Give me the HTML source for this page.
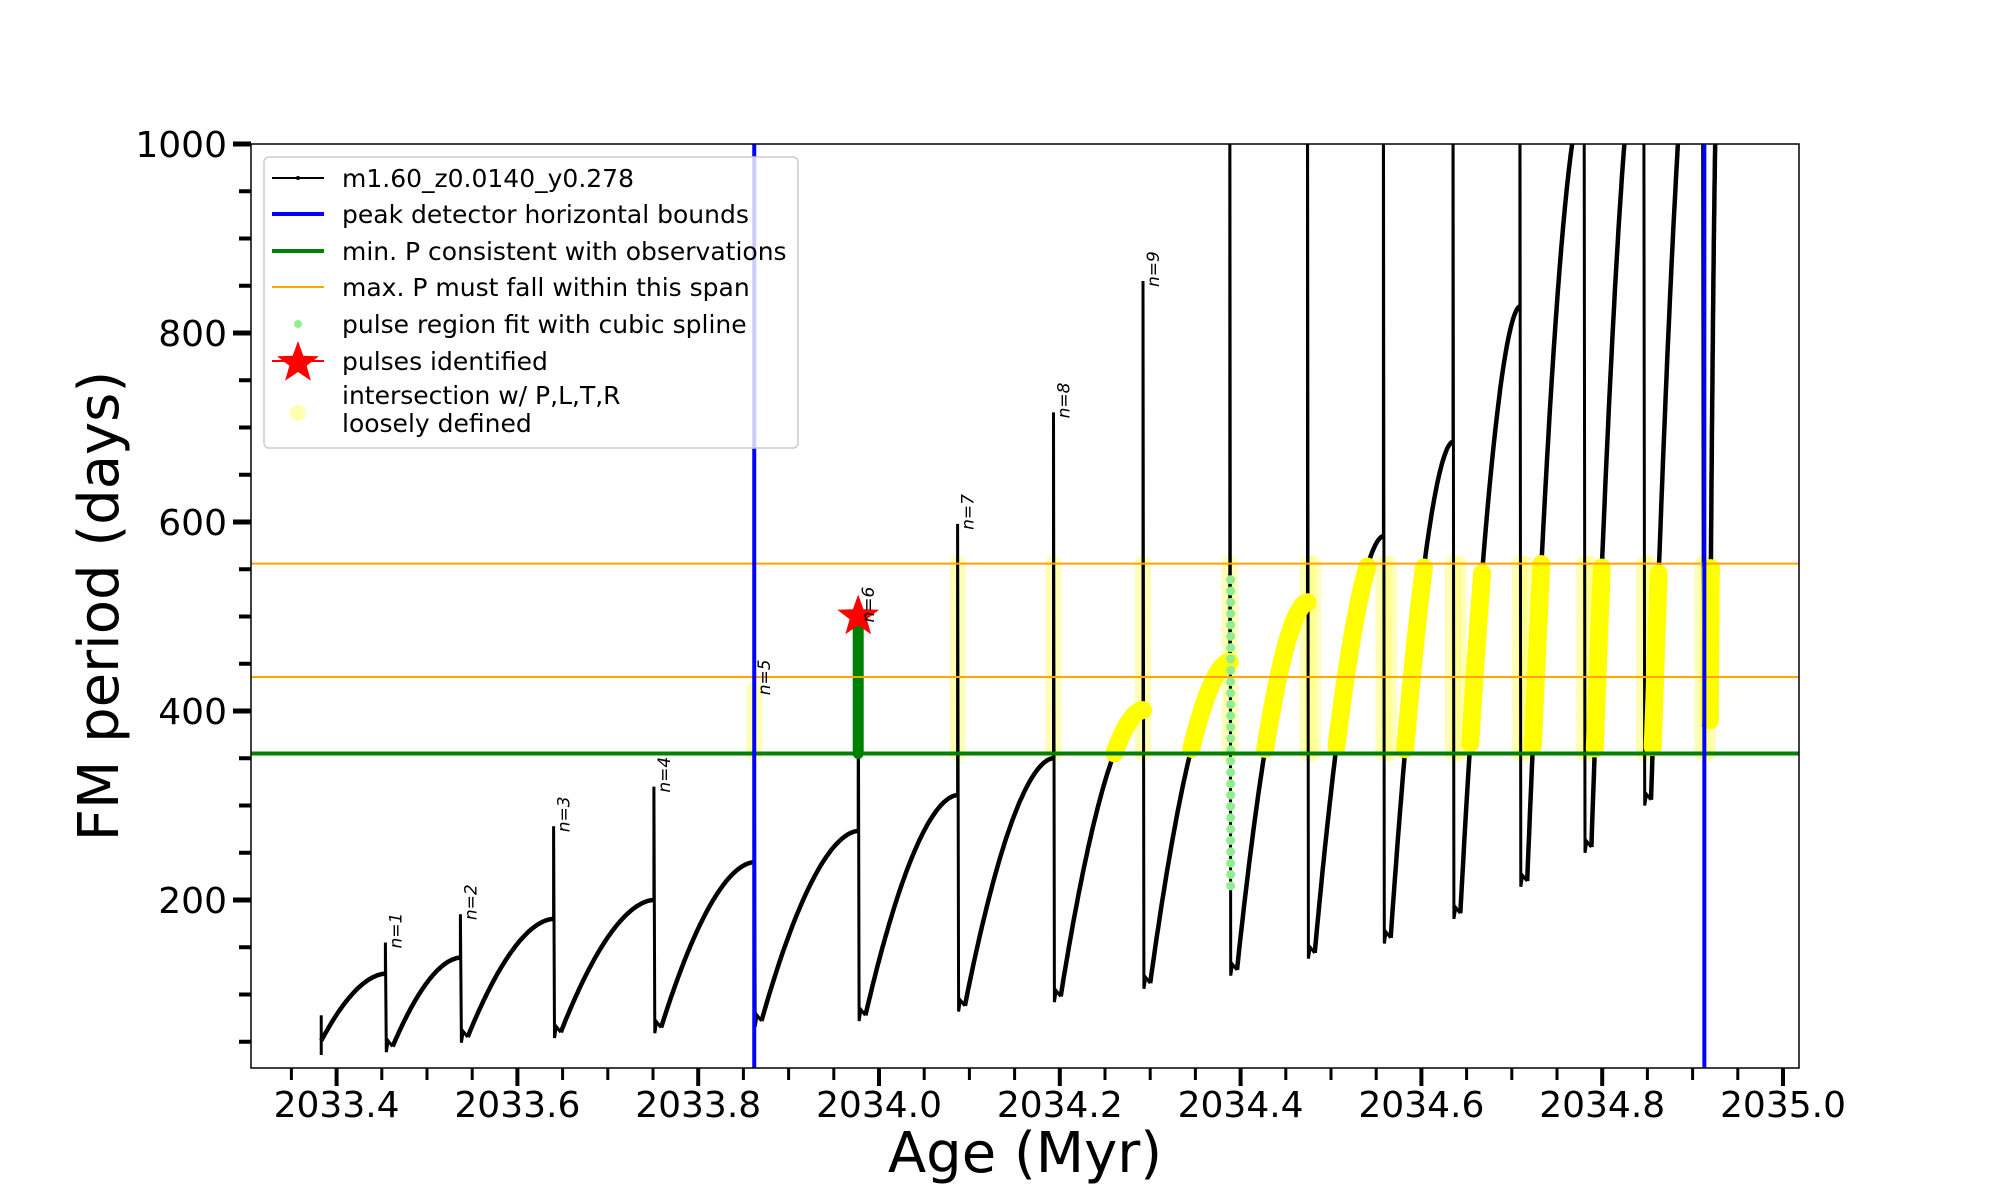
<!DOCTYPE html>
<html><head><meta charset="utf-8"><style>
html,body{margin:0;padding:0;background:#fff;}
svg{display:block;font-family:"DejaVu Sans","Liberation Sans",sans-serif;}
</style></head><body>
<svg id="chart" width="2000" height="1200" viewBox="0 0 2000 1200" xmlns="http://www.w3.org/2000/svg">
<defs><clipPath id="plotclip"><rect x="251" y="144" width="1548" height="924"/></clipPath></defs>
<rect x="0" y="0" width="2000" height="1200" fill="#fff"/>
<g id="marks" clip-path="url(#plotclip)"></g>
<rect x="251" y="144" width="1548" height="924" fill="none" stroke="#000" stroke-width="1.5"/>
<g id="axes"></g>
<text x="1025" y="1172" font-size="56" text-anchor="middle">Age (Myr)</text>
<text transform="translate(118,606) rotate(-90)" font-size="56" text-anchor="middle">FM period (days)</text>
<g>
<rect x="264" y="157" width="534" height="291" rx="5" fill="#fff" fill-opacity="0.8" stroke="#ccc" stroke-width="1.5"/>
<g><line x1="272" y1="178" x2="324" y2="178" stroke="#000" stroke-width="2"/><circle cx="298" cy="178" r="2" fill="#000"/><text x="342" y="187" font-size="25">m1.60_z0.0140_y0.278</text></g>
<g><line x1="272" y1="214" x2="324" y2="214" stroke="#00f" stroke-width="4"/><text x="342" y="223" font-size="25">peak detector horizontal bounds</text></g>
<g><line x1="272" y1="251" x2="324" y2="251" stroke="#008000" stroke-width="4"/><text x="342" y="260" font-size="25">min. P consistent with observations</text></g>
<g><line x1="272" y1="287" x2="324" y2="287" stroke="#ffa500" stroke-width="2"/><text x="342" y="296" font-size="25">max. P must fall within this span</text></g>
<g><circle cx="298" cy="324" r="4" fill="#90ee90"/><text x="342" y="333" font-size="25">pulse region fit with cubic spline</text></g>
<g><polygon id="legstar" fill="#f00"/><line x1="272" y1="361" x2="324" y2="361" stroke="#f00" stroke-width="2"/><text x="342" y="370" font-size="25">pulses identified</text></g>
<g><ellipse cx="298" cy="413" rx="8" ry="8" fill="#ffffb0"/><text x="342" y="404" font-size="25">intersection w/ P,L,T,R</text><text x="342" y="432" font-size="25">loosely defined</text></g>
</g>
<script>
// ---- data ----
const pulseAges = [2033.454, 2033.537, 2033.640, 2033.751, 2033.862, 2033.977, 2034.087, 2034.193, 2034.292, 2034.388, 2034.474, 2034.558, 2034.635, 2034.709, 2034.780, 2034.846, 2034.911];
const prePeaks  = [122, 139, 180, 200, 240, 273, 311, 350, 401, 452, 515, 585, 685, 828, 1050, 1150, 1250];
const spikeTops = [155, 185, 278, 320, 423, 500, 598, 716, 855, 1100, 1100, 1100, 1100, 1100, 1100, 1100, 1100];
const postMins  = [45, 55, 60, 65, 72, 78, 88, 98, 112, 126, 144, 160, 186, 220, 256, 306, 390];
const startAge = 2033.383, startMin = 51, startSpike = 78;
const endAge = 2034.928, endPeak = 1100;
const pulseLabels = ["n=1","n=2","n=3","n=4","n=5","n=6","n=7","n=8","n=9"];
const blueBounds = [2033.862, 2034.913];
const minP = [355];
const maxPSpan = [436, 556];
const starPoint = [2033.977, 500];
const xTicks = [2033.4, 2033.6, 2033.8, 2034.0, 2034.2, 2034.4, 2034.6, 2034.8, 2035.0];
const yTicks = [200, 400, 600, 800, 1000];

// ---- axes ----
const X = a => 336.6 + (a - 2033.4) * 904;
const Y = p => 144 + (1000 - p) * 0.945;
const NS = "http://www.w3.org/2000/svg";
const marks = document.getElementById('marks');
const axes = document.getElementById('axes');
function mk(tag, attrs, parent) { const e = document.createElementNS(NS, tag); for (const k in attrs) e.setAttribute(k, attrs[k]); parent.appendChild(e); return e; }

const rises = [];
const spikes = [];
function rise(t0, m0, t1, p1) {
  const pts = [];
  for (let k = 0; k <= 60; k++) { const u = k / 60; pts.push([t0 + (t1 - t0) * u, m0 + (p1 - m0) * (1 - Math.pow(1 - u, 1.8))]); }
  return pts;
}
rises.push(rise(startAge, startMin, pulseAges[0], prePeaks[0]));
for (let i = 0; i < pulseAges.length; i++) {
  const t = pulseAges[i];
  spikes.push([[t, prePeaks[i]], [t, spikeTops[i]], [t + 0.001, postMins[i] - 6], [t + 0.003, postMins[i] + 6], [t + 0.008, postMins[i]]]);
  const tn = i + 1 < pulseAges.length ? pulseAges[i + 1] : endAge;
  const pn = i + 1 < pulseAges.length ? prePeaks[i + 1] : endPeak;
  rises.push(rise(t + 0.008, postMins[i], tn, pn));
}
const toPath = pts => pts.map((p, k) => (k ? 'L' : 'M') + X(p[0]).toFixed(1) + ',' + Y(p[1]).toFixed(1)).join(' ');

for (let i = 4; i < pulseAges.length; i++) {
  if (i === 5) continue;
  const top = Math.min(spikeTops[i], maxPSpan[1]);
  const g = mk('line', {x1: X(pulseAges[i]), x2: X(pulseAges[i]), y1: Y(minP[0]), y2: Y(top), stroke: '#ffff60', 'stroke-opacity': 0.45, 'stroke-width': 16, 'stroke-linecap': 'round'}, marks);
  
  
  if (i >= 10) {
    const g2 = mk('line', {x1: X(pulseAges[i] + 0.006), x2: X(pulseAges[i] + 0.006), y1: Y(minP[0]), y2: Y(top), stroke: '#ffff60', 'stroke-opacity': 0.45, 'stroke-width': 16, 'stroke-linecap': 'round'}, marks);
    
    
  }
}
const ss = mk('line', {x1: X(startAge), x2: X(startAge), y1: Y(startMin - 15), y2: Y(startSpike), stroke: '#000', 'stroke-width': 3}, marks);


rises.forEach(r => {
  const p = mk('path', {d: toPath(r), fill: 'none', stroke: '#000', 'stroke-width': 4.5}, marks);
  
  
});
spikes.forEach(s => {
  const p = mk('path', {d: toPath(s), fill: 'none', stroke: '#000', 'stroke-width': 3}, marks);
  
  
});
rises.forEach(r => {
  if (r[r.length - 1][0] < 2034.2) return;
  const seg = r.filter(p => p[1] >= minP[0] && p[1] <= maxPSpan[1]);
  if (seg.length < 2) return;
  const p = mk('path', {d: toPath(seg), fill: 'none', stroke: '#ffff00', 'stroke-width': 18, 'stroke-linecap': 'round'}, marks);
  
  
});
const gr = mk('line', {x1: X(pulseAges[5]), x2: X(pulseAges[5]), y1: Y(minP[0]), y2: Y(starPoint[1]), stroke: '#008000', 'stroke-width': 11, 'stroke-linecap': 'round'}, marks);


for (let p = 215; p <= 550; p += 12) {
  const c = mk('circle', {cx: X(pulseAges[9] + 0.001), cy: Y(p), r: 4.5, fill: '#90ee90'}, marks);
  
  
}
const hg = mk('line', {x1: 251, x2: 1799, y1: Y(minP[0]), y2: Y(minP[0]), stroke: '#008000', 'stroke-width': 4}, marks);


maxPSpan.forEach(v => {
  const l = mk('line', {x1: 251, x2: 1799, y1: Y(v), y2: Y(v), stroke: '#ffa500', 'stroke-width': 2}, marks);
  
  
});
blueBounds.forEach(v => {
  const l = mk('line', {x1: X(v), x2: X(v), y1: 144, y2: 1068, stroke: '#0000ff', 'stroke-width': 4}, marks);
  
  
});
function starPts(cx, cy, R, r) { const a = []; for (let k = 0; k < 10; k++) { const ang = -Math.PI / 2 + k * Math.PI / 5; const rr = k % 2 ? r : R; a.push((cx + rr * Math.cos(ang)).toFixed(1) + ',' + (cy + rr * Math.sin(ang)).toFixed(1)); } return a.join(' '); }
const st = mk('polygon', {points: starPts(X(starPoint[0]), Y(starPoint[1]), 22, 9), fill: '#f00'}, marks);


document.getElementById('legstar').setAttribute('points', starPts(298, 363, 22, 9));
pulseLabels.forEach((t, i) => {
  const x = X(pulseAges[i]) + 16, y = Y(spikeTops[i]) + 6;
  const tx = mk('text', {transform: `translate(${x},${y}) rotate(-90)`, 'font-size': 17, 'font-style': 'italic', 'text-anchor': 'start'}, marks);
  tx.textContent = t;
  
  
});
for (let a = 2033.35; a <= 2035.001; a += 0.05) {
  const maj = Math.abs(Math.round(a * 5) - a * 5) < 1e-6;
  if (maj) continue;
  const l = mk('line', {x1: X(a), x2: X(a), y1: 1068, y2: 1080, stroke: '#000', 'stroke-width': 3}, axes);
  
  
}
xTicks.forEach(v => {
  const l = mk('line', {x1: X(v), x2: X(v), y1: 1068, y2: 1086, stroke: '#000', 'stroke-width': 4}, axes);
  
  
  const t = mk('text', {x: X(v), y: 1117, 'font-size': 36, 'text-anchor': 'middle'}, axes);
  t.textContent = v.toFixed(1);
  
  
});
for (let p = 50; p <= 1000; p += 50) {
  if (p % 200 === 0) continue;
  const l = mk('line', {x1: 239, x2: 251, y1: Y(p), y2: Y(p), stroke: '#000', 'stroke-width': 4}, axes);
  
  
}
yTicks.forEach(v => {
  const l = mk('line', {x1: 233, x2: 251, y1: Y(v), y2: Y(v), stroke: '#000', 'stroke-width': 5}, axes);
  
  
  const t = mk('text', {x: 227, y: Y(v) + 13, 'font-size': 36, 'text-anchor': 'end'}, axes);
  t.textContent = v;
  
  
});
</script>
</svg>
</body></html>
